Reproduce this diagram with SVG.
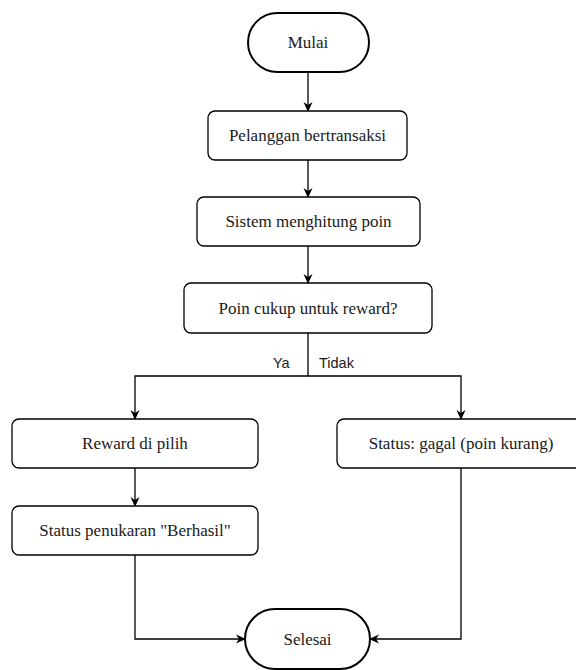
<svg xmlns="http://www.w3.org/2000/svg" width="576" height="670" viewBox="0 0 576 670">
  <defs>
    <style>
      .box { fill: #ffffff; stroke: #000000; stroke-width: 1.3; }
      .term { fill: #ffffff; stroke: #000000; stroke-width: 2; }
      .lbl { font-family: "Liberation Serif", "Times New Roman", serif; font-size: 17px; fill: #1a1a1a; text-anchor: middle; dominant-baseline: central; }
      .edge { fill: none; stroke: #000000; stroke-width: 1.3; }
      .elbl { font-family: "Liberation Sans", Arial, sans-serif; font-size: 14.5px; fill: #1a1a1a; }
    </style>
    <marker id="arrow" viewBox="0 0 10 10" refX="9" refY="5" markerWidth="10" markerHeight="10" markerUnits="userSpaceOnUse" orient="auto">
      <path d="M0,0.5 L10,5 L0,9.5 L3,5 Z" fill="#000000"/>
    </marker>
  </defs>
  <rect width="576" height="670" fill="#ffffff"/>

  <!-- connectors -->
  <g id="connectors">
    <path class="edge" d="M308,72 V111" marker-end="url(#arrow)"/>
    <path class="edge" d="M308,160 V197" marker-end="url(#arrow)"/>
    <path class="edge" d="M308,246 V283" marker-end="url(#arrow)"/>
    <path class="edge" d="M308,333 V376 H135 V419" marker-end="url(#arrow)"/>
    <path class="edge" d="M308,376 H461 V419" marker-end="url(#arrow)"/>
    <path class="edge" d="M135,468 V506" marker-end="url(#arrow)"/>
    <path class="edge" d="M135,555 V639 H245" marker-end="url(#arrow)"/>
    <path class="edge" d="M461,468 V639 H370" marker-end="url(#arrow)"/>
    <text class="elbl" x="273" y="368">Ya</text>
    <text class="elbl" x="319" y="368">Tidak</text>
  </g>

  <g id="mulai">
    <rect class="term" x="248" y="13" width="121" height="59" rx="29.5" ry="29.5"/>
    <text class="lbl" x="308" y="42">Mulai</text>
  </g>
  <g id="pelanggan">
    <rect class="box" x="208" y="111" width="199" height="49" rx="7"/>
    <text class="lbl" x="307.5" y="135.5">Pelanggan bertransaksi</text>
  </g>
  <g id="sistem">
    <rect class="box" x="197" y="197" width="223" height="49" rx="7"/>
    <text class="lbl" x="308.5" y="221.5">Sistem menghitung poin</text>
  </g>
  <g id="cek-poin">
    <rect class="box" x="184" y="283" width="248" height="50" rx="7"/>
    <text class="lbl" x="308" y="308">Poin cukup untuk reward?</text>
  </g>
  <g id="reward">
    <rect class="box" x="12" y="419" width="246" height="49" rx="7"/>
    <text class="lbl" x="135" y="443.5">Reward di pilih</text>
  </g>
  <g id="berhasil">
    <rect class="box" x="12" y="506" width="246" height="49" rx="7"/>
    <text class="lbl" x="135" y="530.5">Status penukaran "Berhasil"</text>
  </g>
  <g id="gagal">
    <rect class="box" x="337" y="419" width="248" height="49" rx="7"/>
    <text class="lbl" x="461" y="443.5">Status: gagal (poin kurang)</text>
  </g>
  <g id="selesai">
    <rect class="term" x="245" y="609" width="125" height="60" rx="30" ry="30"/>
    <text class="lbl" x="307.5" y="639">Selesai</text>
  </g>
</svg>
